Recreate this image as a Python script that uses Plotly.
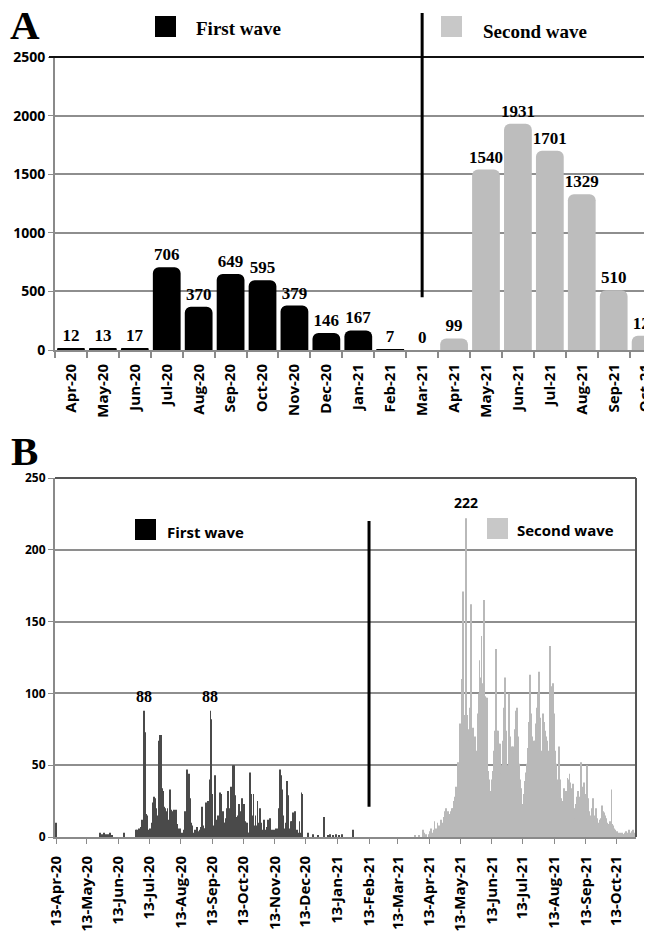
import pandas as pd
import plotly.graph_objects as go

# ---------------- Panel A: monthly cases ----------------
months_a = ["Apr-20", "May-20", "Jun-20", "Jul-20", "Aug-20", "Sep-20", "Oct-20",
            "Nov-20", "Dec-20", "Jan-21", "Feb-21", "Mar-21", "Apr-21", "May-21",
            "Jun-21", "Jul-21", "Aug-21", "Sep-21", "Oct-21"]
monthly_cases = [12, 13, 17, 706, 370, 649, 595, 379, 146, 167, 7, 0,
                 99, 1540, 1931, 1701, 1329, 510, 122]
n_first_months = 12          # Apr-20 .. Mar-21 belong to the first wave series
wave_split_month = "Mar-21"

# ---------------- Panel B: daily cases ----------------
apr20 = [10, 0, 0, 0, 0, 0, 0, 0, 0, 0, 0, 0, 0, 0, 0, 0, 0, 0]  # from 13-Apr
may20 = [0] * 25 + [3, 0, 2, 0, 3, 0]
jun20 = [2, 0, 2, 0, 3, 0, 1, 0, 0, 0, 0, 0, 0, 0, 0, 0, 0, 3, 3, 0,
         0, 0, 0, 0, 0, 0, 0, 0, 0, 5]
jul20 = [5, 4, 6, 5, 7, 12, 6, 88, 73, 16, 15, 5, 3, 6, 5, 10, 24, 28, 27, 20,
         10, 15, 67, 71, 71, 34, 32, 21, 20, 18, 20]
aug20 = [12, 33, 19, 15, 18, 19, 10, 19, 9, 6, 4, 6, 2, 3, 2, 5, 18, 17, 47, 20,
         44, 27, 10, 8, 2, 3, 5, 2, 7, 3, 4]
sep20 = [5, 7, 21, 8, 6, 6, 24, 10, 25, 40, 88, 82, 30, 8, 43, 12, 10, 15, 14, 31,
         30, 10, 18, 10, 10, 13, 20, 32, 17, 20]
oct20 = [35, 18, 50, 50, 29, 14, 14, 15, 23, 18, 17, 27, 13, 23, 11, 10, 10, 3, 3, 45,
         30, 15, 30, 8, 15, 8, 25, 10, 20, 10, 5]
nov20 = [3, 12, 5, 3, 7, 12, 5, 13, 5, 4, 5, 4, 5, 6, 5, 6, 20, 47, 43, 33,
         15, 5, 6, 10, 39, 29, 6, 4, 11, 11]
dec20 = [17, 5, 18, 3, 5, 3, 11, 3, 31, 30, 0, 0, 0, 0, 3, 0, 0, 0, 0, 2,
         0, 0, 0, 0, 1, 0, 0, 0, 0, 0, 14]
jan21 = [0, 0, 0, 1, 0, 2, 0, 0, 1, 0, 0, 2, 0, 0, 1, 0, 0, 2, 0, 0,
         0, 0, 0, 0, 0, 0, 0, 5, 0, 0, 0]
feb21 = [0] * 28
mar21 = [0] * 29 + [1, 0]
apr21 = [0, 0, 1, 0, 0, 0, 5, 3, 0, 2, 0, 0, 2, 4, 6, 3, 5, 11, 6, 6,
         10, 8, 7, 12, 9, 10, 14, 18, 20, 15]
may21 = [18, 16, 16, 18, 20, 20, 25, 28, 35, 30, 52, 42, 79, 69, 110, 171, 80, 85, 222, 85,
         75, 67, 90, 162, 74, 76, 60, 70, 60, 86, 100]
jun21 = [123, 111, 140, 107, 165, 98, 97, 97, 46, 40, 0, 32, 40, 46, 60, 74, 131, 74, 74, 65,
         65, 44, 50, 67, 90, 111, 74, 50, 39, 100]
jul21 = [70, 60, 63, 63, 58, 75, 88, 90, 70, 51, 40, 34, 23, 30, 39, 45, 51, 62, 80, 113,
         86, 70, 62, 67, 67, 79, 90, 100, 115, 83, 60]
aug21 = [55, 86, 80, 74, 70, 67, 55, 60, 133, 97, 105, 107, 86, 60, 51, 40, 37, 63, 40, 27,
         16, 25, 34, 32, 32, 41, 40, 44, 38, 34, 37]
sep21 = [20, 13, 23, 28, 32, 28, 25, 52, 35, 30, 38, 30, 18, 50, 27, 18, 15, 13, 20, 27,
         11, 15, 20, 13, 10, 7, 12, 13, 22, 18]
oct21 = [17, 15, 13, 10, 9, 9, 11, 33, 9, 8, 6, 5, 4, 3, 2, 3, 2, 3, 2, 2,
         3, 4, 2, 3, 5, 3, 2, 4, 5, 3, 2]

daily_start = "2020-04-13"
wave_split_date = "2021-02-13"
labelled_days = ["2020-07-08", "2020-09-11", "2021-05-19"]

# ---------------- build series ----------------
daily_values = (apr20 + may20 + jun20 + jul20 + aug20 + sep20 + oct20 + nov20 + dec20 +
                jan21 + feb21 + mar21 + apr21 + may21 + jun21 + jul21 + aug21 + sep21 + oct21)
dates = pd.date_range(daily_start, periods=len(daily_values), freq="D")
daily = pd.Series(daily_values, index=dates)
first_daily = daily[daily.index < wave_split_date]
second_daily = daily[daily.index >= wave_split_date]

BLACK = "#000000"
GREY_A = "#bdbdbd"
DARK_B = "#4a4a4a"
GREY_B = "#b9b9b9"
GRID = "#8e8e8e"
AXIS = "#8a8a8a"

# page body has an 8px default margin: the figure fills the rest of the window
OFF = 8
W, H = 652 - OFF, 931 - OFF


def px(x):
    return (x - OFF) / W


def py(y):
    return 1 - (y - OFF) / H


fig = go.Figure()

serif_bold = dict(family="Liberation Serif", size=17, color="black", weight="bold")
sans = "Open Sans"

fig.add_trace(go.Bar(
    x=months_a[:n_first_months], y=monthly_cases[:n_first_months],
    marker=dict(color=BLACK, cornerradius=6, line=dict(width=0)),
    text=monthly_cases[:n_first_months], textposition="outside", constraintext="none",
    textfont=serif_bold, cliponaxis=False, xaxis="x", yaxis="y",
    name="First wave", showlegend=False))
fig.add_trace(go.Bar(
    x=months_a[n_first_months:], y=monthly_cases[n_first_months:],
    marker=dict(color=GREY_A, cornerradius=6, line=dict(width=0)),
    text=monthly_cases[n_first_months:], textposition="outside", constraintext="none",
    textfont=serif_bold, cliponaxis=False, xaxis="x", yaxis="y",
    name="Second wave", showlegend=False))

fig.add_trace(go.Bar(
    x=first_daily.index, y=first_daily.values,
    marker=dict(color=DARK_B, line=dict(width=0)),
    xaxis="x2", yaxis="y2", name="First wave", showlegend=False))
fig.add_trace(go.Bar(
    x=second_daily.index, y=second_daily.values,
    marker=dict(color=GREY_B, line=dict(width=0)),
    xaxis="x2", yaxis="y2", name="Second wave", showlegend=False))

ya_dom = [py(350), py(57)]
yb_dom = [py(837), py(478)]

tickfont_x = dict(family=sans, size=15, color="black", weight="bold")

fig.update_layout(
    width=W, height=H, margin=dict(l=0, r=0, t=0, b=0, autoexpand=False),
    paper_bgcolor="white", plot_bgcolor="white",
    barmode="overlay", bargap=0.13, showlegend=False,
    xaxis=dict(domain=[px(55), 1], anchor="y", type="category", automargin=False,
               range=[-0.5, 18.2], tickangle=-90, ticks="outside", ticklen=6,
               tickson="boundaries", tickcolor=AXIS, tickwidth=1.5,
               showline=True, linecolor=AXIS, linewidth=2, showgrid=False,
               tickfont=tickfont_x, ticklabelstandoff=6),
    yaxis=dict(domain=ya_dom, anchor="x", range=[0, 2500], dtick=500, automargin=False,
               showgrid=True, gridcolor=GRID, gridwidth=1.5, zeroline=False,
               showline=True, linecolor=AXIS, linewidth=2, ticks="outside",
               ticklen=5, tickcolor=AXIS,
               tickfont=dict(family=sans, size=14, color="black", weight="bold")),
    xaxis2=dict(domain=[px(55), px(636)], anchor="y2", type="date", automargin=False,
                range=["2020-04-12", "2021-11-01"], tick0=daily_start, dtick="M1",
                tickformat="%d-%b-%y", tickangle=-90, ticks="outside", ticklen=5,
                tickcolor=AXIS, showline=True, linecolor=AXIS, linewidth=2,
                showgrid=False, tickfont=tickfont_x, ticklabelstandoff=6),
    yaxis2=dict(domain=yb_dom, anchor="x2", range=[0, 250], dtick=50, automargin=False,
                showgrid=True, gridcolor=GRID, gridwidth=1.5, zeroline=False,
                showline=True, linecolor=AXIS, linewidth=2, ticks="outside",
                ticklen=5, tickcolor=AXIS,
                tickfont=dict(family=sans, size=12, color="black", weight="bold")),
)

# top border of panel A and frame of panel B
fig.add_shape(type="line", xref="x domain", yref="y domain", x0=-0.01, x1=1, y0=1, y1=1,
              line=dict(color="#111111", width=2))
fig.add_shape(type="line", xref="x2 domain", yref="y2 domain", x0=0, x1=1, y0=1, y1=1,
              line=dict(color="#555555", width=2))
fig.add_shape(type="line", xref="x2 domain", yref="y2 domain", x0=1, x1=1, y0=0, y1=1,
              line=dict(color="#555555", width=2))

# wave divider lines
div_a_bottom = ya_dom[0] + (450 / 2500) * (ya_dom[1] - ya_dom[0])
fig.add_shape(type="line", xref="x", yref="paper", x0=wave_split_month, x1=wave_split_month,
              y0=div_a_bottom, y1=py(13), line=dict(color="black", width=3))
fig.add_shape(type="line", xref="x2", yref="y2", x0=wave_split_date, x1=wave_split_date,
              y0=21, y1=220, line=dict(color="black", width=3))

# panel letters
fig.add_annotation(text="<b>A</b>", x=px(8), y=py(50), xref="paper", yref="paper",
                   xanchor="left", yanchor="bottom", showarrow=False,
                   font=dict(family="Liberation Serif", size=41, color="black"))
fig.add_annotation(text="<b>B</b>", x=px(9), y=py(476), xref="paper", yref="paper",
                   xanchor="left", yanchor="bottom", showarrow=False,
                   font=dict(family="Liberation Serif", size=41, color="black"))

# legends (manual)
def legend_item(x0, y0, color, label, tx, ty, font):
    fig.add_shape(type="rect", xref="paper", yref="paper",
                  x0=px(x0), x1=px(x0 + 21), y0=py(y0 + 21), y1=py(y0),
                  fillcolor=color, line=dict(width=0))
    fig.add_annotation(text=label, x=px(tx), y=py(ty), xref="paper", yref="paper",
                       xanchor="left", yanchor="middle", showarrow=False, font=font)

legA_font = dict(family="Liberation Serif", size=19, color="black", weight="bold")
legB_font = dict(family=sans, size=15, color="black", weight="bold")
legend_item(155, 16, BLACK, "First wave", 194, 28, legA_font)
legend_item(441, 16, "#c8c8c8", "Second wave", 481, 31, legA_font)
legend_item(135, 519, BLACK, "First wave", 165, 532, legB_font)
legend_item(487, 518, "#c8c8c8", "Second wave", 515, 530, legB_font)

# peak labels in panel B
for i, d in enumerate(labelled_days):
    v = int(daily[d])
    f = (dict(family="Liberation Serif", size=16, color="black", weight="bold") if i < 2
         else dict(family=sans, size=14, color="black", weight="bold"))
    fig.add_annotation(text=str(v), x=d, y=v, xref="x2", yref="y2", yanchor="bottom",
                       yshift=4, showarrow=False, font=f)

fig.write_html("out.html")
